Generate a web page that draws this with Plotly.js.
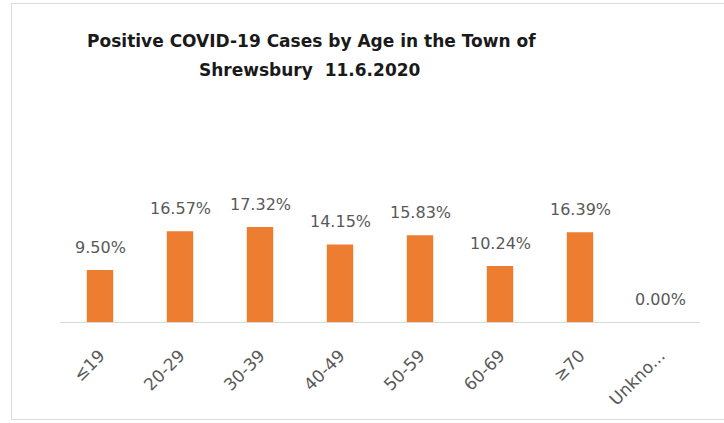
<!DOCTYPE html>
<html>
<head>
<meta charset="utf-8">
<script src="https://cdn.plot.ly/plotly-3.0.1.min.js"></script>
<style>
  html, body { margin: 0; padding: 0; background: #fff; }
  #wrap { position: relative; width: 724px; height: 423px; }
  #chart { width: 724px; height: 423px; }
  #frame { position: absolute; left: 11px; top: 3px; width: 740px; height: 417px; border: 1px solid #d9d9d9; pointer-events: none; box-sizing: border-box; }
</style>
</head>
<body>
<div id="wrap">
  <div id="chart"></div>
  <div id="frame"></div>
</div>
<script>
const categories = ["≤19", "20-29", "30-39", "40-49", "50-59", "60-69", "≥70", "Unknown"];
const tickLabels = ["≤19", "20-29", "30-39", "40-49", "50-59", "60-69", "≥70", "Unkno..."];
const percentValues = [9.50, 16.57, 17.32, 14.15, 15.83, 10.24, 16.39, 0.00];
const titleLine1 = "Positive COVID-19 Cases by Age in the Town of";
const titleLine2 = "Shrewsbury  11.6.2020";

const labelFont = { family: "DejaVu Sans, sans-serif", size: 16, color: "#595959" };
const titleFont = { family: "DejaVu Sans, sans-serif", size: 17, color: "#1a1a1a" };

const trace = {
  type: "bar",
  x: categories,
  y: percentValues,
  marker: { color: "#ED7D31" },
  hoverinfo: "none"
};

const valueAnnotations = categories.map((c, i) => ({
  x: c, y: percentValues[i], xref: "x", yref: "y",
  text: percentValues[i].toFixed(2) + "%",
  showarrow: false, yanchor: "bottom", yshift: 11,
  font: labelFont
}));

const layout = {
  width: 724, height: 423,
  margin: { l: 60, r: 24, t: 185, b: 101 },
  paper_bgcolor: "rgba(0,0,0,0)",
  plot_bgcolor: "rgba(0,0,0,0)",
  bargap: 0.67,
  showlegend: false,
  title: {
    text: "<b>" + titleLine1 + "</b>",
    x: 0.43, xanchor: "center", y: 0.903, yanchor: "middle",
    font: titleFont
  },
  xaxis: {
    type: "category",
    tickvals: categories,
    ticktext: tickLabels,
    tickangle: -45,
    ticklabelstandoff: 16,
    showline: true, linecolor: "#d9d9d9", linewidth: 1,
    ticks: "", showgrid: false, zeroline: false,
    tickfont: { family: "DejaVu Sans, sans-serif", size: 17, color: "#595959" },
    fixedrange: true
  },
  yaxis: {
    range: [0, 25], visible: false, showgrid: false, zeroline: false, fixedrange: true
  },
  annotations: valueAnnotations.concat([{
    xref: "paper", yref: "paper", x: 0.39, y: 1.839, xanchor: "center", yanchor: "middle",
    text: "<b>" + titleLine2 + "</b>", showarrow: false,
    font: titleFont
  }])
};

Plotly.newPlot("chart", [trace], layout, { displayModeBar: false, staticPlot: true });
</script>
</body>
</html>
